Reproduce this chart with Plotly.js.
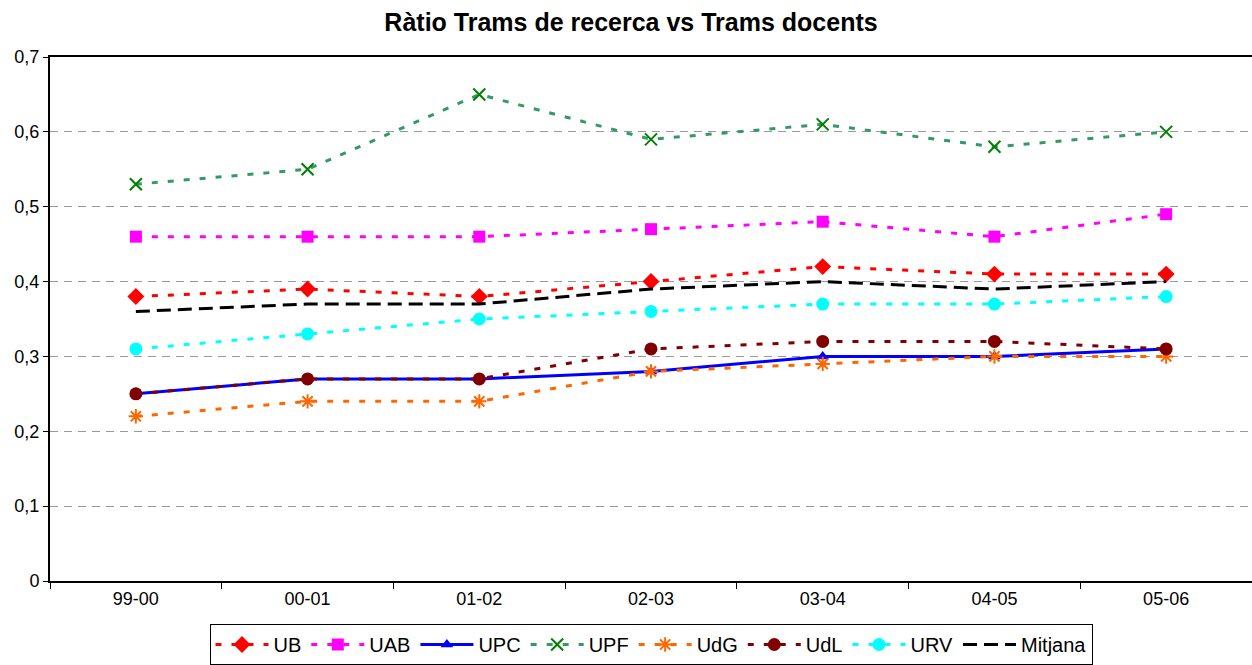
<!DOCTYPE html>
<html>
<head>
<meta charset="utf-8">
<script src="https://cdn.plot.ly/plotly-3.0.1.min.js"></script>
<style>html,body{margin:0;padding:0;background:#fff;}#chart{width:1252px;height:665px;}</style>
</head>
<body>
<div id="chart"></div>
<script>
const categories = ["99-00", "00-01", "01-02", "02-03", "03-04", "04-05", "05-06"];
const UB      = [0.38, 0.39, 0.38, 0.40, 0.42, 0.41, 0.41];
const UAB     = [0.46, 0.46, 0.46, 0.47, 0.48, 0.46, 0.49];
const UPC     = [0.25, 0.27, 0.27, 0.28, 0.30, 0.30, 0.31];
const UPF     = [0.53, 0.55, 0.65, 0.59, 0.61, 0.58, 0.60];
const UdG     = [0.22, 0.24, 0.24, 0.28, 0.29, 0.30, 0.30];
const UdL     = [0.25, 0.27, 0.27, 0.31, 0.32, 0.32, 0.31];
const URV     = [0.31, 0.33, 0.35, 0.36, 0.37, 0.37, 0.38];
const Mitjana = [0.36, 0.37, 0.37, 0.39, 0.40, 0.39, 0.40];
const yTickVals = [0, 0.1, 0.2, 0.3, 0.4, 0.5, 0.6, 0.7];
const yTickText = ["0", "0,1", "0,2", "0,3", "0,4", "0,5", "0,6", "0,7"];

const dotted = "6px,10px";
function tr(name, y, color, dash, symbol, msize, mcolor, mline) {
  const t = {
    type: "scatter", mode: symbol ? "lines+markers" : "lines",
    name: name, x: categories, y: y,
    line: {color: color, width: 3, dash: dash},
  };
  if (symbol) {
    t.marker = {symbol: symbol, size: msize, color: mcolor || color,
                line: {color: mcolor || color, width: mline || 0}};
  }
  return t;
}

const data = [
  tr("UB", UB, "#FF0000", dotted, "diamond", 13),
  tr("UAB", UAB, "#FF00FF", dotted, "square", 12),
  tr("UPC", UPC, "#0000FF", "solid", "triangle-up", 11),
  tr("UPF", UPF, "#339966", dotted, "x-thin-open", 12, "#008000", 2),
  tr("UdG", UdG, "#FF6600", dotted, "asterisk-open", 12, "#FF6600", 2),
  tr("UdL", UdL, "#800000", dotted, "circle", 13),
  tr("URV", URV, "#00FFFF", dotted, "circle", 13),
  tr("Mitjana", Mitjana, "#000000", "14px,7px", null)
];

const layout = {
  width: 1252, height: 665,
  margin: {l: 50, r: 0, t: 57, b: 84},
  paper_bgcolor: "#fff", plot_bgcolor: "#fff",
  font: {family: "Liberation Sans, Arial, sans-serif", color: "#000"},
  title: {text: "<b>Ràtio Trams de recerca vs Trams docents</b>",
          font: {size: 25, family: "Liberation Sans, Arial, sans-serif", color: "#000"},
          x: 0.504, xanchor: "center", y: 0.967, yanchor: "middle"},
  xaxis: {
    type: "category", range: [-0.5, 6.5], automargin: false,
    showline: true, linecolor: "#000", linewidth: 2, mirror: true,
    ticks: "outside", tickson: "boundaries", ticklen: 6, tickcolor: "#000",
    showgrid: false, zeroline: false,
    tickfont: {size: 18}
  },
  yaxis: {
    range: [0, 0.7], tickvals: yTickVals, ticktext: yTickText, automargin: false,
    showline: true, linecolor: "#000", linewidth: 2,
    ticks: "outside", ticklen: 5, tickcolor: "#000",
    showgrid: true, gridcolor: "#999", griddash: "8px,6px", gridwidth: 1,
    zeroline: false, tickfont: {size: 18}
  },
  showlegend: true,
  legend: {orientation: "h", x: 0.5, xanchor: "center",
           yref: "container", y: -0.008, yanchor: "bottom",
           bordercolor: "#000", borderwidth: 1, font: {size: 20},
           itemwidth: 53, tracegroupgap: 0}
};

Plotly.newPlot("chart", data, layout, {displayModeBar: false, staticPlot: true});
</script>
</body>
</html>
